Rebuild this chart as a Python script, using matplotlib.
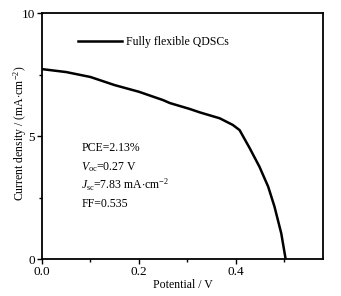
import numpy as np
import matplotlib
matplotlib.use('Agg')
import matplotlib.pyplot as plt

plt.rcParams['font.family'] = 'Liberation Serif'
plt.rcParams['mathtext.fontset'] = 'custom'
plt.rcParams['mathtext.rm'] = 'Liberation Serif'
plt.rcParams['mathtext.it'] = 'Liberation Serif:italic'

# J-V curve
potential = [0.0, 0.05, 0.10, 0.15, 0.20, 0.25, 0.264, 0.305, 0.326, 0.367, 0.394,
             0.408, 0.429, 0.449, 0.467, 0.480, 0.494, 0.503]
current = [7.72, 7.6, 7.4, 7.07, 6.8, 6.46, 6.34, 6.1, 5.96, 5.72, 5.45,
           5.24, 4.5, 3.75, 2.94, 2.13, 1.04, 0.0]
label = 'Fully flexible QDSCs'
notes = ['PCE=2.13%', '$V_{\\rm oc}$=0.27 V', '$J_{\\rm sc}$=7.83 mA$\\cdot$cm$^{-2}$', 'FF=0.535']

fig = plt.figure(figsize=(3.41, 2.96), dpi=100)
ax = fig.add_axes([0.123, 0.125, 0.824, 0.831])
ax.plot(potential, current, color='black', lw=1.8, label=label)

ax.set_xlim(0, 0.58)
ax.set_ylim(0, 10)
ax.set_xticks([0.0, 0.2, 0.4])
ax.set_xticks([0.1, 0.3, 0.5], minor=True)
ax.set_yticks([0, 5, 10])
ax.set_yticks([2.5, 7.5], minor=True)
ax.tick_params(which='both', direction='out', labelsize=9.5, width=1, pad=1.5)
ax.tick_params(which='major', length=3.5)
ax.tick_params(which='minor', length=2.5)
for s in ax.spines.values():
    s.set_linewidth(1.3)

ax.set_xlabel('Potential / V', fontsize=8.5, labelpad=1)
ax.set_ylabel('Current density / (mA$\\cdot$cm$^{-2}$)', fontsize=8.5)
ax.yaxis.set_label_coords(-0.047, 0.51)

ax.legend(loc='upper left', bbox_to_anchor=(0.09, 0.95), frameon=False, fontsize=8.5,
          handlelength=3.7, handletextpad=0.4)

for i, t in enumerate(notes):
    ax.text(0.14, 0.45 - i * 0.075, t, transform=ax.transAxes, fontsize=8.5, va='center')

fig.savefig('out.png', dpi=100)
